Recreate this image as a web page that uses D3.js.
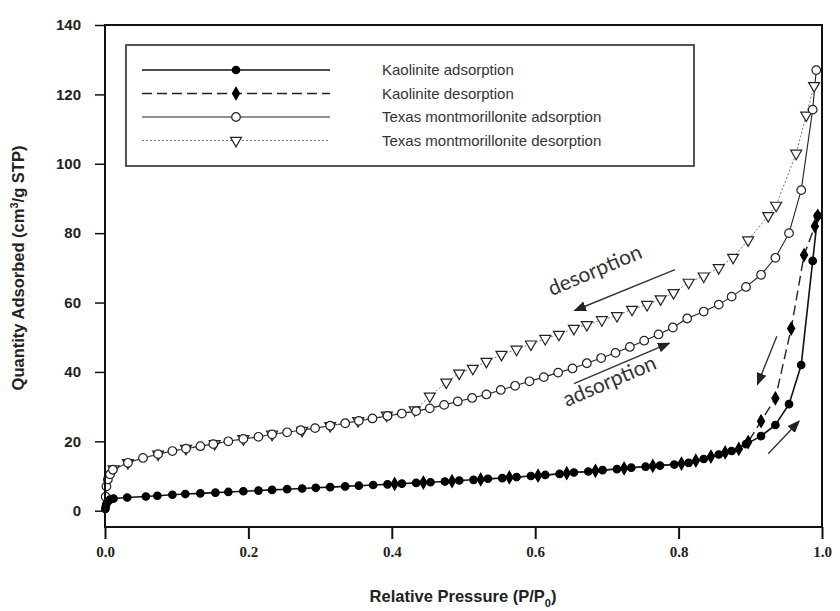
<!DOCTYPE html>
<html>
<head>
<meta charset="utf-8">
<script src="https://cdn.jsdelivr.net/npm/d3@7"></script>
<style>
  body { margin: 0; background: #fff; }
  svg { display: block; }
</style>
</head>
<body>
<div id="chart"></div>
<script>
var size = { width: 840, height: 611 };
var plot = { left: 105, right: 822, top: 25, bottom: 527 };

// Kaolinite adsorption [P/P0, quantity]
var kaoAds = [
  [0.0005, 0.5], [0.001, 1.2], [0.002, 2.0], [0.004, 2.7], [0.007, 3.2], [0.012, 3.5],
  [0.031, 3.8], [0.057, 4.1], [0.073, 4.3], [0.094, 4.6], [0.112, 4.8], [0.133, 5.0],
  [0.154, 5.2], [0.172, 5.4], [0.193, 5.6], [0.214, 5.8], [0.233, 6.0], [0.254, 6.2],
  [0.275, 6.4], [0.294, 6.6], [0.314, 6.8], [0.335, 7.0], [0.354, 7.2], [0.374, 7.4],
  [0.394, 7.6], [0.414, 7.8], [0.434, 8.0], [0.454, 8.2], [0.474, 8.4], [0.494, 8.7],
  [0.514, 8.9], [0.534, 9.2], [0.554, 9.4], [0.574, 9.7], [0.594, 10.0], [0.614, 10.3],
  [0.634, 10.6], [0.654, 11.0], [0.674, 11.3], [0.694, 11.7], [0.714, 12.0], [0.734, 12.4],
  [0.754, 12.7], [0.774, 13.0], [0.794, 13.3], [0.814, 13.8], [0.835, 14.9], [0.856, 16.2],
  [0.874, 17.2], [0.894, 19.2], [0.915, 21.5], [0.935, 24.7], [0.954, 30.7], [0.971, 42],
  [0.987, 72], [0.994, 85]
];

// Kaolinite desorption
var kaoDes = [
  [0.994, 85], [0.99, 82], [0.975, 73.7], [0.957, 52.5], [0.935, 32.4], [0.915, 25.8],
  [0.897, 19.8], [0.884, 17.8], [0.865, 16.8], [0.845, 15.6], [0.824, 14.4], [0.804, 13.6],
  [0.764, 12.9], [0.724, 12.2], [0.684, 11.5], [0.644, 10.8], [0.604, 10.1], [0.564, 9.6],
  [0.524, 9.0], [0.484, 8.5], [0.444, 8.1], [0.404, 7.7]
];

// Texas montmorillonite adsorption
var texAds = [
  [0.001, 4], [0.002, 7], [0.004, 9], [0.007, 10.5], [0.011, 11.8], [0.032, 13.8],
  [0.053, 15.2], [0.074, 16.3], [0.094, 17.2], [0.113, 17.9], [0.133, 18.6], [0.151, 19.2],
  [0.172, 20.0], [0.193, 20.7], [0.214, 21.3], [0.233, 22.0], [0.254, 22.6], [0.273, 23.2],
  [0.293, 23.8], [0.314, 24.5], [0.335, 25.2], [0.354, 25.9], [0.373, 26.6], [0.394, 27.3],
  [0.414, 28.0], [0.434, 28.7], [0.453, 29.5], [0.473, 30.5], [0.492, 31.5], [0.512, 32.5],
  [0.532, 33.5], [0.552, 34.8], [0.572, 36.0], [0.592, 37.3], [0.612, 38.5], [0.632, 39.8],
  [0.652, 41.0], [0.672, 42.5], [0.692, 44.0], [0.712, 45.5], [0.732, 47.2], [0.752, 49.0],
  [0.772, 50.8], [0.792, 52.8], [0.812, 55.4], [0.835, 57.4], [0.856, 59.4], [0.874, 61.7],
  [0.894, 64.5], [0.915, 68.0], [0.935, 72.9], [0.954, 80.0], [0.971, 92.4], [0.987, 115.6],
  [0.992, 127]
];

// Texas montmorillonite desorption
var texDes = [
  [0.989, 122.5], [0.978, 114], [0.964, 103], [0.936, 88], [0.925, 85], [0.897, 78],
  [0.876, 73], [0.856, 70], [0.835, 67.6], [0.814, 65.8], [0.793, 62.8], [0.775, 61.0],
  [0.756, 59.4], [0.735, 58.0], [0.714, 56.2], [0.693, 55.0], [0.672, 53.6], [0.654, 52.5],
  [0.633, 50.8], [0.614, 49.6], [0.594, 48.0], [0.574, 46.5], [0.553, 45.0], [0.532, 43.0],
  [0.513, 41.0], [0.494, 39.6], [0.476, 37.0], [0.453, 33.0], [0.432, 29.0], [0.393, 27.5],
  [0.353, 25.9], [0.314, 24.5], [0.275, 23.1], [0.233, 22.0], [0.193, 20.7], [0.153, 19.3],
  [0.113, 17.9], [0.074, 16.3], [0.032, 13.8], [0.012, 12.0]
];

var xTicks = [0, 0.2, 0.4, 0.6, 0.8, 1.0];
var yTicks = [0, 20, 40, 60, 80, 100, 120, 140];

var seriesNames = [
  "Kaolinite adsorption",
  "Kaolinite desorption",
  "Texas montmorillonite adsorption",
  "Texas montmorillonite desorption"
];

var series = [
  { name: seriesNames[0], data: kaoAds, stroke: "#111", width: 1.6, dash: null, symbol: d3.symbolCircle, symSize: 44, fill: "#000", rot: 0 },
  { name: seriesNames[1], data: kaoDes, stroke: "#222", width: 1.4, dash: "10,5", symbol: d3.symbolDiamond, symSize: 44, fill: "#000", rot: 0 },
  { name: seriesNames[2], data: texAds, stroke: "#222", width: 1.1, dash: null, symbol: d3.symbolCircle, symSize: 58, fill: "#fff", rot: 0 },
  { name: seriesNames[3], data: texDes, stroke: "#777", width: 1, dash: "2,2", symbol: d3.symbolTriangle, symSize: 52, fill: "#fff", rot: 180 }
];

var x = d3.scaleLinear().domain([0, 1]).range([plot.left, plot.right]);
var y = d3.scaleLinear().domain([-4.7, 140]).range([plot.bottom, plot.top]);

var svg = d3.select("#chart").append("svg")
  .attr("width", size.width)
  .attr("height", size.height);

// Series lines
var line = d3.line()
  .x(function(d) { return x(d[0]); })
  .y(function(d) { return y(d[1]); });

series.forEach(function(s) {
  svg.append("path")
    .datum(s.data.slice().sort(function(a, b) { return a[0] - b[0]; }))
    .attr("d", line)
    .attr("fill", "none")
    .attr("stroke", s.stroke)
    .attr("stroke-width", s.width)
    .attr("stroke-dasharray", s.dash);
});

// Markers, drawn in reverse order so kaolinite sits on top
series.slice().reverse().forEach(function(s) {
  svg.append("g").selectAll("path")
    .data(s.data)
    .enter()
    .append("path")
    .attr("transform", function(d) { return "translate(" + x(d[0]) + "," + y(d[1]) + ") rotate(" + s.rot + ")"; })
    .attr("d", d3.symbol().type(s.symbol).size(s.symSize))
    .attr("fill", s.fill)
    .attr("stroke", s.fill === "#fff" ? "#222" : "#000")
    .attr("stroke-width", 1.2);
});

// Frame
svg.append("rect")
  .attr("x", plot.left).attr("y", plot.top)
  .attr("width", plot.right - plot.left).attr("height", plot.bottom - plot.top)
  .attr("fill", "none").attr("stroke", "#111").attr("stroke-width", 2);

// Axes
var xAxis = svg.append("g")
  .attr("transform", "translate(0," + plot.bottom + ")")
  .call(d3.axisBottom(x).tickValues(xTicks).tickSize(12).tickFormat(d3.format(".1f")));
xAxis.select(".domain").remove();
xAxis.selectAll("line").attr("stroke", "#111").attr("stroke-width", 2);
xAxis.selectAll("text")
  .attr("dy", "1.0em")
  .style("font-family", "'Liberation Serif', serif")
  .style("font-weight", "bold")
  .style("font-size", "15px")
  .attr("fill", "#222");

var yAxis = svg.append("g")
  .attr("transform", "translate(" + plot.left + ",0)")
  .call(d3.axisLeft(y).tickValues(yTicks).tickSize(10).tickPadding(14));
yAxis.select(".domain").remove();
yAxis.selectAll("line").attr("stroke", "#111").attr("stroke-width", 1.5);
yAxis.selectAll("text")
  .style("font-family", "'Liberation Sans', Arial, sans-serif")
  .style("font-weight", "bold")
  .style("font-size", "15px")
  .attr("fill", "#222");

// Axis titles
var yTitle = svg.append("text")
  .attr("transform", "translate(24," + ((plot.top + plot.bottom) / 2 - 8) + ") rotate(-90)")
  .attr("text-anchor", "middle")
  .style("font-family", "'Liberation Sans', Arial, sans-serif")
  .style("font-weight", "bold")
  .style("font-size", "16.5px")
  .attr("fill", "#222");
yTitle.append("tspan").text("Quantity Adsorbed (cm");
yTitle.append("tspan").attr("dy", -6).style("font-size", "11px").text("3");
yTitle.append("tspan").attr("dy", 6).text("/g STP)");

var xTitle = svg.append("text")
  .attr("x", 463).attr("y", 602)
  .attr("text-anchor", "middle")
  .style("font-family", "'Liberation Sans', Arial, sans-serif")
  .style("font-weight", "bold")
  .style("font-size", "16.5px")
  .attr("fill", "#222");
xTitle.append("tspan").text("Relative Pressure (P/P");
xTitle.append("tspan").attr("dy", 5).style("font-size", "11px").text("0");
xTitle.append("tspan").attr("dy", -5).text(")");

// Legend
var legend = svg.append("g");
legend.append("rect")
  .attr("x", 126).attr("y", 45).attr("width", 568).attr("height", 121)
  .attr("fill", "#fff").attr("stroke", "#444").attr("stroke-width", 1.8);

series.forEach(function(s, i) {
  var ly = 70 + i * 23.5;
  legend.append("line")
    .attr("x1", 142).attr("x2", 330).attr("y1", ly).attr("y2", ly)
    .attr("stroke", s.stroke).attr("stroke-width", s.width)
    .attr("stroke-dasharray", s.dash);
  legend.append("path")
    .attr("transform", "translate(236," + ly + ") rotate(" + s.rot + ")")
    .attr("d", d3.symbol().type(s.symbol).size(s.symSize))
    .attr("fill", s.fill)
    .attr("stroke", s.fill === "#fff" ? "#222" : "#000")
    .attr("stroke-width", 1.2);
  legend.append("text")
    .attr("x", 382).attr("y", ly + 5)
    .style("font-family", "'Liberation Sans', Arial, sans-serif")
    .style("font-size", "15px")
    .attr("fill", "#333")
    .text(s.name);
});

// Annotations
var marker = svg.append("defs").append("marker")
  .attr("id", "arrow").attr("viewBox", "0 0 10 10")
  .attr("refX", 9).attr("refY", 5)
  .attr("markerWidth", 9).attr("markerHeight", 9)
  .attr("orient", "auto-start-reverse");
marker.append("path").attr("d", "M0,1 L10,5 L0,9 Z").attr("fill", "#222");

function arrow(p0, p1) {
  svg.append("line")
    .attr("x1", x(p0[0])).attr("y1", y(p0[1]))
    .attr("x2", x(p1[0])).attr("y2", y(p1[1]))
    .attr("stroke", "#333").attr("stroke-width", 1.4)
    .attr("marker-end", "url(#arrow)");
}

function note(label, p, angle) {
  svg.append("text")
    .attr("transform", "translate(" + x(p[0]) + "," + y(p[1]) + ") rotate(" + angle + ")")
    .style("font-family", "Lato, 'Open Sans', sans-serif")
    .style("font-size", "21px")
    .attr("fill", "#333")
    .text(label);
}

note("desorption", [0.623, 61.8], -23);
arrow([0.795, 69.5], [0.655, 57.7]);
arrow([0.654, 36.6], [0.787, 48.3]);
note("adsorption", [0.644, 29.9], -23);
arrow([0.937, 50.3], [0.91, 36.4]);
arrow([0.925, 16.4], [0.968, 25.8]);
</script>
</body>
</html>
